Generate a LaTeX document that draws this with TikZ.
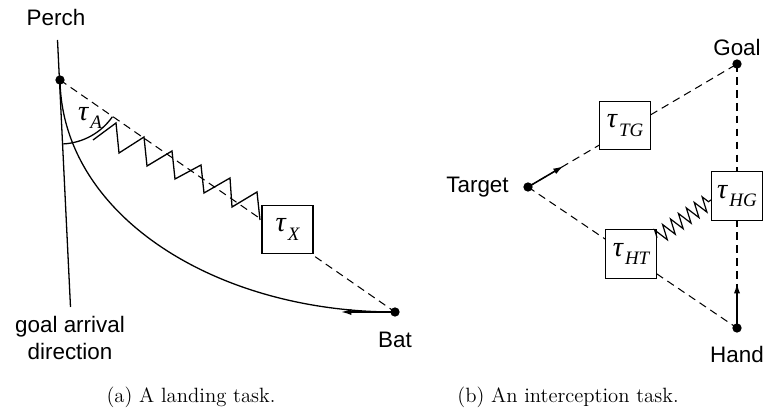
\documentclass[tikz,border=0pt]{standalone}
\usepackage{fontspec}
\newfontfamily\lblfont{Liberation Sans}
\newfontfamily\symfont{Liberation Serif}
\usetikzlibrary{arrows.meta,calc,decorations.pathmorphing}
\newcommand{\tauof}[1]{{\symfont\fontsize{16.5}{16.5}\selectfont\itshape τ\kern1.2pt\raisebox{-4.8pt}{\fontsize{11}{11}\selectfont #1}}}

\begin{document}
\begin{tikzpicture}
% one unit is one pixel of the original figure
\def\pxsz{0.58pt}
\tikzset{
  dot/.style={circle, fill=black, inner sep=0pt, minimum size=5.4pt},
  lbl/.style={font=\lblfont\fontsize{13}{15.5}\selectfont, inner sep=0pt},
  taubox/.style={draw, fill=white, line width=0.7pt, minimum width=29.5pt, minimum height=28pt, inner sep=0pt},
  dashline/.style={line width=0.6pt, dash pattern=on 4.5pt off 3pt},
  solidline/.style={line width=0.75pt},
  arr/.style={line width=0.9pt, -{Latex[length=6pt,width=3.6pt]}},
  springline/.style={line width=0.7pt, decorate, decoration={zigzag, segment length=5.6pt, amplitude=4.4pt}},
  capt/.style={font=\fontsize{12}{14}\selectfont, inner sep=0pt}
}
\begin{scope}[x=\pxsz, y=-\pxsz, line join=miter]
  \useasboundingbox (0,0) rectangle (765,414);
  % (a) landing task
  \node[dot] (perch) at (60,80) {};
  \node[dot] (bat) at (395,312) {};
  \node[lbl] (perchlbl) at (56,17) {Perch};
  \node[lbl] (batlbl) at (395,340) {Bat};
  \node[lbl, align=center] (dirlbl) at (70,338) {goal arrival\\direction};
  % Goal arrival direction
  \coordinate (dirtop) at (57.5,40);
  \coordinate (dirbot) at (70.5,307);
  \draw[solidline] (dirtop) -- (dirbot);
  % Line of sight and flight path
  \draw[dashline] (perch.center) -- (bat.center);
  \draw[solidline] (perch.center) .. controls (62,215) and (215,312) .. (bat.center);
  \coordinate (battip) at (341,312);
  \draw[arr] (bat.center) -- (battip);
  % Angle
  \draw[solidline] (perch.center) ++(87:64) arc (87:35:64);
  \node (taua) at (90,118) {\tauof{A}};
  % Sawtooth coupling
  \draw[solidline] (93,140) -- (116,123) -- (119,153) -- (144,137) -- (147,166)
    -- (172,151) -- (175,179) -- (201,165) -- (204,193) -- (230,178)
    -- (232,207) -- (257,192) -- (260,220);
  \node[taubox] (taux) at (287.5,229.5) {\tauof{X}};
  % (b) interception task
  \node[dot] (goal) at (737,64) {};
  \node[dot] (target) at (528,187) {};
  \node[dot] (hand) at (737,328) {};
  \node[lbl] (goallbl) at (737,47) {Goal};
  \node[lbl, anchor=east] (targetlbl) at (509,187) {Target};
  \node[lbl] (handlbl) at (737,354) {Hand};
  % Gaps
  \draw[dashline] (target.center) -- (goal.center);
  \draw[dashline] (target.center) -- (hand.center);
  \draw[dashline] (goal.center) -- (hand.center);
  \node[taubox] (tg) at (625,125.5) {\tauof{TG}};
  \node[taubox] (hg) at (737,196) {\tauof{HG}};
  \node[taubox] (ht) at (631,254) {\tauof{HT}};
  % Motion
  \draw[arr] (target.center) -- ($(target.center)!0.17!(goal.center)$);
  \draw[arr] (hand.center) -- ($(hand.center)!0.17!(goal.center)$);
  % Coupling
  \draw[springline] ($(ht.north east)!0.17!(ht.south east)$) -- ($(hg.north west)!0.58!(hg.south west)$);
  % Captions
  \node[capt] (capa) at (191,397) {(a) A landing task.};
  \node[capt] (capb) at (568,397) {(b) An interception task.};
\end{scope}
\end{tikzpicture}
\end{document}
